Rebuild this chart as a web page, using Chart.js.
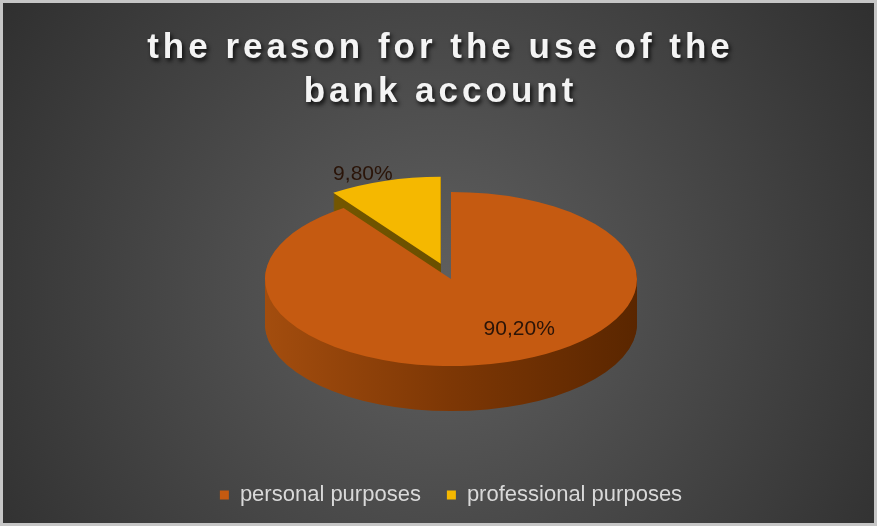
<!DOCTYPE html>
<html>
<head>
<meta charset="utf-8">
<title>the reason for the use of the bank account</title>
<script src="https://cdn.jsdelivr.net/npm/chart.js@4.4.1/dist/chart.umd.min.js"></script>
<style>
    html, body { margin: 0; padding: 0; background: #fff; }
    #wrap { width: 871px; height: 520px; border: 3px solid #c6c6c6; }
</style>
</head>
<body>
<div id="wrap"><canvas id="reasonChart"></canvas></div>
<script>
// data
const titleLines = ['the reason for the use of the', 'bank account'];
const categories = ['personal purposes', 'professional purposes'];
const shares = [90.2, 9.8];

// look
const sliceColors = ['#c55a11', '#f5b800'];
const wallShades = [
    ['#a34d0e', '#7d3705', '#5a2600'],
    ['#7a5c00', '#6a4f00', '#5a4300']
];
const explodePx = [0, 34];                         // pull-out distance per slice
const labelSpots = [{ r: 0.68, turn: -15 }, { r: 1.11, turn: -4.5 }];
const TILT = 0.468;                                // vertical squash of the disc
const DEPTH = 45;                                  // height of the side wall, px
const FONT = '"Liberation Sans", Arial, sans-serif';

function pieCenter(chart) {
    const a = chart.chartArea;
    return { cx: (a.left + a.right) / 2, cy: (a.top + a.bottom) / 2 };
}

// dark radial backdrop + title with shadow
const backdrop = {
    id: 'backdrop',
    beforeDraw(chart) {
        const { ctx, width, height } = chart;
        const g = ctx.createRadialGradient(width * 0.5, height * 0.56, 0, width * 0.5, height * 0.56, width * 0.62);
        g.addColorStop(0, '#606060');
        g.addColorStop(1, '#2e2e2e');
        ctx.save();
        ctx.fillStyle = g;
        ctx.fillRect(0, 0, width, height);
        ctx.restore();
    },
    afterDraw(chart) {
        const ctx = chart.ctx;
        ctx.save();
        ctx.font = 'bold 35px ' + FONT;
        ctx.letterSpacing = '4px';
        ctx.textAlign = 'center';
        ctx.textBaseline = 'alphabetic';
        ctx.fillStyle = '#f4f4f4';
        ctx.shadowColor = 'rgba(0, 0, 0, 0.8)';
        ctx.shadowBlur = 4;
        ctx.shadowOffsetX = 2;
        ctx.shadowOffsetY = 3;
        titleLines.forEach((line, i) => ctx.fillText(line, chart.width / 2 + 2, 55 + i * 44));
        ctx.restore();
    }
};

// tilted pie: pull slices out, draw side walls, squash the disc, put value labels on
const pie3d = {
    id: 'pie3d',
    afterDatasetsUpdate(chart) {
        chart.getDatasetMeta(0).data.forEach((arc, i) => {
            const d = explodePx[i] || 0;
            const mid = (arc.startAngle + arc.endAngle) / 2;
            arc.x += Math.cos(mid) * d;
            arc.y += Math.sin(mid) * d;
        });
    },
    beforeDatasetsDraw(chart) {
        const ctx = chart.ctx;
        const { cx, cy } = pieCenter(chart);
        const arcs = chart.getDatasetMeta(0).data;
        ctx.save();
        ctx.translate(cx, cy);
        ctx.scale(1, TILT);
        ctx.translate(-cx, -cy);

        // back slices first
        const order = arcs.map((a, i) => i).reverse();
        order.forEach(i => {
            const arc = arcs[i];
            const R = arc.outerRadius;
            const g = ctx.createLinearGradient(arc.x - R, 0, arc.x + R, 0);
            wallShades[i].forEach((c, j, all) => g.addColorStop(j / (all.length - 1), c));
            ctx.fillStyle = g;
            for (let s = DEPTH; s >= 1; s--) {
                const y = arc.y + s / TILT;
                ctx.beginPath();
                ctx.moveTo(arc.x, y);
                ctx.arc(arc.x, y, R, arc.startAngle, arc.endAngle);
                ctx.closePath();
                ctx.fill();
            }
        });
    },
    afterDatasetsDraw(chart) {
        const ctx = chart.ctx;
        ctx.restore();

        const { cy } = pieCenter(chart);
        const values = chart.data.datasets[0].data;
        ctx.save();
        ctx.font = '21px ' + FONT;
        ctx.fillStyle = '#2a1408';
        ctx.textAlign = 'center';
        ctx.textBaseline = 'middle';
        chart.getDatasetMeta(0).data.forEach((arc, i) => {
            const spot = labelSpots[i];
            const a = (arc.startAngle + arc.endAngle) / 2 + spot.turn * Math.PI / 180;
            const r = arc.outerRadius * spot.r;
            const x = arc.x + Math.cos(a) * r;
            const y = cy + (arc.y - cy + Math.sin(a) * r) * TILT;
            ctx.fillText(values[i].toFixed(2).replace('.', ',') + '%', x, y);
        });
        ctx.restore();
    }
};

const ctx = document.getElementById('reasonChart').getContext('2d');
new Chart(ctx, {
    type: 'pie',
    data: {
        labels: categories,
        datasets: [{
            data: shares,
            backgroundColor: sliceColors,
            borderWidth: 0,
            clip: false
        }]
    },
    options: {
        responsive: true,
        maintainAspectRatio: false,
        animation: false,
        events: [],
        radius: 186,
        layout: {
            padding: { top: 97, bottom: 7, left: 25, right: 0 }
        },
        plugins: {
            title: { display: false },
            tooltip: { enabled: false },
            legend: {
                position: 'bottom',
                labels: {
                    color: '#d9d9d9',
                    boxWidth: 9,
                    boxHeight: 9,
                    padding: 26,
                    font: { family: FONT, size: 22 }
                }
            }
        }
    },
    plugins: [backdrop, pie3d]
});
</script>
</body>
</html>
